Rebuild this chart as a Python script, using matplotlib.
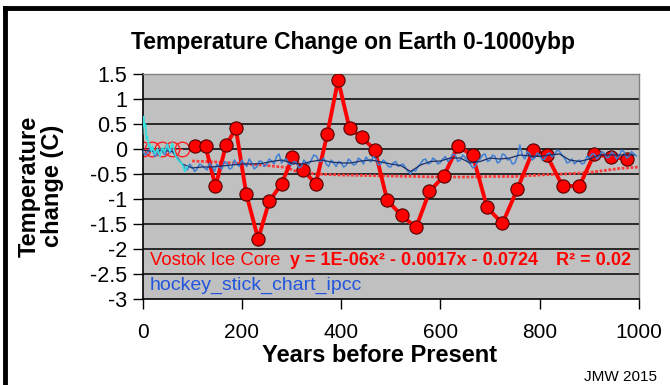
import matplotlib
matplotlib.use('Agg')
import matplotlib.pyplot as plt
import numpy as np
from matplotlib.lines import Line2D

# Vostok ice core points (years before present, temperature change C)
vostok_years = [106, 127, 147, 168, 188, 209, 233, 255, 280, 302, 324, 349, 372, 394, 417,
                442, 468, 493, 522, 551, 578, 607, 635, 665, 694, 725, 755, 787, 814, 846,
                880, 910, 943, 975]
vostok_temp = [0.05, 0.05, -0.75, 0.07, 0.41, -0.9, -1.8, -1.05, -0.7, -0.17, -0.42, -0.7, 0.29,
               1.38, 0.41, 0.23, -0.02, -1.03, -1.33, -1.57, -0.85, -0.54, 0.05, -0.12, -1.17,
               -1.49, -0.8, -0.02, -0.12, -0.74, -0.74, -0.1, -0.16, -0.2]

# open markers at the start of the Vostok record
open_years = [0, 20, 40, 60, 80]
open_temp = [0, 0, 0, 0, 0]

# red trend line under the data
trend_years = [100, 150, 200, 250, 290, 310, 350, 400, 450, 500, 550, 600, 650, 700, 750,
               800, 850, 900, 930, 960, 1000]
trend_temp = [-0.24, -0.26, -0.29, -0.33, -0.37, -0.45, -0.5, -0.52, -0.53, -0.54, -0.55,
              -0.56, -0.56, -0.55, -0.55, -0.52, -0.5, -0.47, -0.43, -0.39, -0.36]

# hockey stick reconstruction (every 5 years, 0..995)
hs_years = np.arange(0, 1000, 5)
hs_temp = [-0.02, -0.12, -0.08, 0.02, 0.0, -0.15, -0.1, 0.0, -0.05, -0.12,
           0.02, -0.08, -0.02, -0.12, -0.18, -0.25, -0.3, -0.38, -0.42, -0.3,
           -0.36, -0.45, -0.4, -0.3, -0.33, -0.38, -0.42, -0.28, -0.35, -0.45,
           -0.3, -0.36, -0.4, -0.25, -0.28, -0.4, -0.38, -0.22, -0.3, -0.35,
           -0.22, -0.3, -0.35, -0.2, -0.28, -0.4, -0.36, -0.24, -0.25, -0.35,
           -0.32, -0.2, -0.24, -0.3, -0.15, -0.1, -0.28, -0.22, -0.2, -0.3,
           -0.32, -0.25, -0.27, -0.38, -0.35, -0.22, -0.28, -0.3, -0.22, -0.12,
           -0.14, -0.24, -0.25, -0.18, -0.3, -0.35, -0.22, -0.28, -0.35, -0.25,
           -0.27, -0.36, -0.33, -0.2, -0.25, -0.32, -0.3, -0.18, -0.22, -0.3,
           -0.16, -0.22, -0.26, -0.15, -0.2, -0.32, -0.3, -0.22, -0.27, -0.35,
           -0.36, -0.28, -0.25, -0.35, -0.32, -0.3, -0.38, -0.45, -0.5, -0.42,
           -0.44, -0.35, -0.3, -0.22, -0.2, -0.3, -0.28, -0.18, -0.22, -0.3,
           -0.27, -0.2, -0.15, -0.25, -0.2, -0.1, -0.12, -0.25, -0.22, -0.12,
           -0.17, -0.25, -0.3, -0.38, -0.35, -0.25, -0.2, -0.12, -0.1, -0.25,
           -0.22, -0.12, -0.15, -0.28, -0.25, -0.1, -0.12, -0.22, -0.2, -0.3,
           -0.28, -0.15, 0.08, -0.12, -0.2, -0.05, -0.1, -0.22, -0.18, -0.08,
           -0.12, -0.22, -0.2, -0.1, -0.08, -0.16, -0.12, -0.02, -0.05, -0.12,
           -0.18, -0.28, -0.26, -0.2, -0.3, -0.25, -0.22, -0.3, -0.28, -0.15,
           -0.18, -0.1, -0.1, -0.2, -0.15, -0.05, -0.08, -0.18, -0.16, -0.06,
           -0.1, -0.2, -0.14, -0.02, -0.06, -0.18, -0.15, -0.05, -0.1, -0.14]

# smoothed hockey stick
smooth_years = [0, 20, 40, 60, 80, 100, 120, 140, 160, 180, 200, 220, 240, 260, 280, 300,
                320, 340, 360, 380, 400, 420, 440, 460, 480, 500, 520, 540, 560, 580, 600,
                620, 640, 660, 680, 700, 720, 740, 760, 780, 800, 820, 840, 860, 880, 900,
                920, 940, 960, 980, 990]
smooth_temp = [-0.02, -0.05, -0.03, -0.05, -0.3, -0.38, -0.36, -0.36, -0.34, -0.32, -0.3,
               -0.3, -0.29, -0.25, -0.22, -0.28, -0.3, -0.25, -0.22, -0.26, -0.28, -0.28,
               -0.24, -0.22, -0.26, -0.3, -0.33, -0.45, -0.32, -0.25, -0.24, -0.18, -0.18,
               -0.28, -0.25, -0.18, -0.2, -0.18, -0.12, -0.14, -0.15, -0.12, -0.1, -0.22,
               -0.25, -0.2, -0.12, -0.12, -0.12, -0.12, -0.12]

# instrumental part
instr_years = [0, 2, 4, 6, 8, 10, 12, 15, 18, 20, 25, 30, 35, 40, 45, 50, 55, 60, 65, 70,
               75, 80, 85, 90]
instr_temp = [0.3, 0.65, 0.45, 0.5, 0.2, 0.25, 0.05, 0.1, -0.05, 0.05, -0.1, 0.0, -0.15,
              0.02, -0.05, 0.1, -0.05, 0.12, -0.1, -0.2, -0.25, -0.3, -0.45, -0.35]

y_ticks = [1.5, 1, 0.5, 0, -0.5, -1, -1.5, -2, -2.5, -3]
x_ticks = [0, 200, 400, 600, 800, 1000]

plt.rcParams['font.family'] = ['Liberation Sans', 'DejaVu Sans']

fig = plt.figure(figsize=(6.7, 3.85), dpi=100)
ax = fig.add_axes([0.2127, 0.2234, 0.741, 0.5844])
ax.set_facecolor('#c0c0c0')

for y in y_ticks[1:-1]:
    ax.axhline(y, color='black', lw=1.1, zorder=1)

ax.plot(trend_years, trend_temp, color='#ff3a3a', lw=2.0, ls=(0, (1, 0.6)), zorder=2)
ax.plot(open_years, open_temp, color='#ff3030', lw=0.8, marker='o', ms=10.5,
        mfc='none', mec='#ff2020', mew=1.0, zorder=2)
ax.plot(vostok_years, vostok_temp, color='#ff0000', lw=2.8, marker='o', ms=9.5,
        mfc='#ff0000', mec='#500000', mew=0.8, zorder=3)
ax.plot(hs_years, hs_temp, color='#3f80d4', lw=1.1, zorder=4)
ax.plot(smooth_years, smooth_temp, color='#1a2f6a', lw=0.9, zorder=5)
ax.plot(instr_years, instr_temp, color='#30e0e0', lw=1.2, zorder=6)

ax.set_xlim(0, 1000)
ax.set_ylim(-3, 1.5)
ax.set_yticks(y_ticks)
ax.set_yticklabels([f'{v:g}' for v in y_ticks])
ax.set_xticks(x_ticks)
ax.tick_params(axis='y', direction='out', length=7, width=1, labelsize=15.5, pad=4)
ax.tick_params(axis='x', direction='out', length=7, width=1, labelsize=15, pad=10)
for side in ['top', 'right']:
    ax.spines[side].set_color('#808080')
    ax.spines[side].set_linewidth(1)
for side in ['left', 'bottom']:
    ax.spines[side].set_color('black')
    ax.spines[side].set_linewidth(1.2)

ax.text(0.015, 0.173, 'Vostok Ice Core', color='#ff0000', fontsize=13.3,
        transform=ax.transAxes, va='center')
ax.text(0.297, 0.173, 'y = 1E-06x² - 0.0017x - 0.0724', color='#ff0000', fontsize=13,
        fontweight='bold', transform=ax.transAxes, va='center')
ax.text(0.833, 0.173, 'R² = 0.02', color='#ff0000', fontsize=13,
        fontweight='bold', transform=ax.transAxes, va='center')
ax.text(0.015, 0.062, 'hockey_stick_chart_ipcc', color='#2255dd', fontsize=14,
        transform=ax.transAxes, va='center')

fig.text(353 / 670, 1 - 43 / 385, 'Temperature Change on Earth 0-1000ybp',
         ha='center', va='center', fontsize=16.5, fontweight='bold')
fig.text(380 / 670, 1 - 355 / 385, 'Years before Present',
         ha='center', va='center', fontsize=17, fontweight='bold')
fig.text(41 / 670, 1 - 186 / 385, 'Temperature\nchange (C)', rotation=90,
         ha='center', va='center', multialignment='center', fontsize=17,
         fontweight='bold', linespacing=1.05)
fig.text(620 / 670, 1 - 377 / 385, 'JMW 2015', ha='center', va='center', fontsize=11)

# black frame at top and left
fig.add_artist(Line2D([5 / 670, 1], [1 - 8 / 385, 1 - 8 / 385], color='black', lw=3.5,
                      transform=fig.transFigure))
fig.add_artist(Line2D([5 / 670, 5 / 670], [0, 1 - 8 / 385], color='black', lw=3.5,
                      transform=fig.transFigure))

fig.savefig('out.png', dpi=100)
